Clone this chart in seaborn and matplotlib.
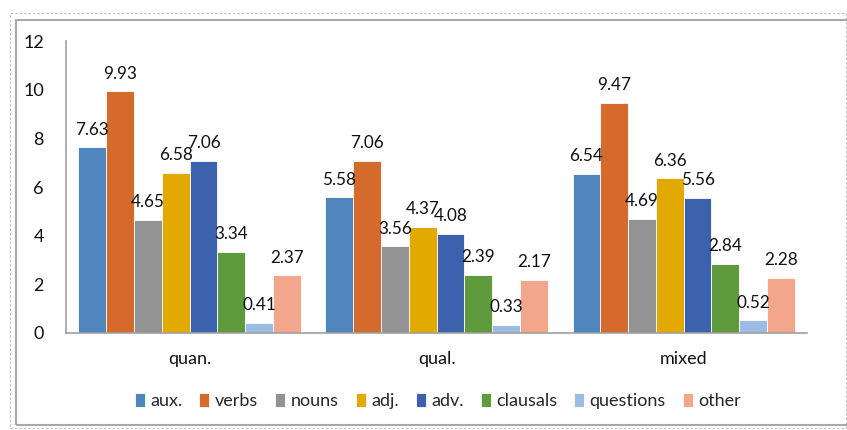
import matplotlib
matplotlib.use("Agg")
import matplotlib.pyplot as plt
import seaborn as sns
import pandas as pd
from matplotlib.patches import Rectangle

groups = ["quan.", "qual.", "mixed"]
series = ["aux.", "verbs", "nouns", "adj.", "adv.", "clausals", "questions", "other"]
aux = [7.63, 5.58, 6.54]
verbs = [9.93, 7.06, 9.47]
nouns = [4.65, 3.56, 4.69]
adj = [6.58, 4.37, 6.36]
adv = [7.06, 4.08, 5.56]
clausals = [3.34, 2.39, 2.84]
questions = [0.41, 0.33, 0.52]
other = [2.37, 2.17, 2.28]
yticks = [0, 2, 4, 6, 8, 10, 12]

colors = ["#4F86BE", "#D46B2C", "#939393", "#E2AA00", "#3C62AE", "#5F9A3C", "#9CBCE4", "#F2A68B"]

vals = [aux, verbs, nouns, adj, adv, clausals, questions, other]
rows = []
for s, v in zip(series, vals):
    for g, x in zip(groups, v):
        rows.append({"group": g, "series": s, "value": x})
df = pd.DataFrame(rows)

sns.set_style("white")
plt.rcParams["font.family"] = ["Lato", "DejaVu Sans"]

fig = plt.figure(figsize=(8.47, 4.30), dpi=100)
ax = fig.add_axes([0.078, 0.2256, 0.875, 0.679])

sns.barplot(data=df, x="group", y="value", hue="series", order=groups,
            hue_order=series, palette=colors, width=0.9, saturation=1,
            ax=ax, errorbar=None, edgecolor="white", linewidth=0.6)

for c in ax.containers:
    ax.bar_label(c, fmt="%.2f", padding=7, fontsize=12.3, color="#111111")

ax.set_ylim(0, 12)
ax.set_yticks(yticks)
ax.set_xlim(-0.5, 2.5)
ax.set_xlabel("")
ax.set_ylabel("")
ax.tick_params(axis="both", length=0, labelsize=13, colors="#111111")
ax.tick_params(axis="x", pad=13)
ax.tick_params(axis="y", pad=16)
for sp in ["top", "right"]:
    ax.spines[sp].set_visible(False)
for sp in ["left", "bottom"]:
    ax.spines[sp].set_color("#A0A0A0")
    ax.spines[sp].set_linewidth(1.2)

leg = ax.legend(loc="center", bbox_to_anchor=(0.517, 0.068), bbox_transform=fig.transFigure,
                ncol=8, frameon=False, fontsize=13, handlelength=0.55, handleheight=0.85,
                handletextpad=0.3, columnspacing=0.95)

# outer borders
fig.patches.append(Rectangle((10/847, 1-428/430), 836/847, (428-13)/430, transform=fig.transFigure,
                             fill=False, edgecolor="#B8B8B8", linestyle=(0, (2, 2)), linewidth=0.8))
fig.patches.append(Rectangle((16/847, 1-425/430), 880/847, (425-20)/430, transform=fig.transFigure,
                             fill=False, edgecolor="#A8A8A8", linewidth=1.5))

fig.savefig("out.png", dpi=100)
